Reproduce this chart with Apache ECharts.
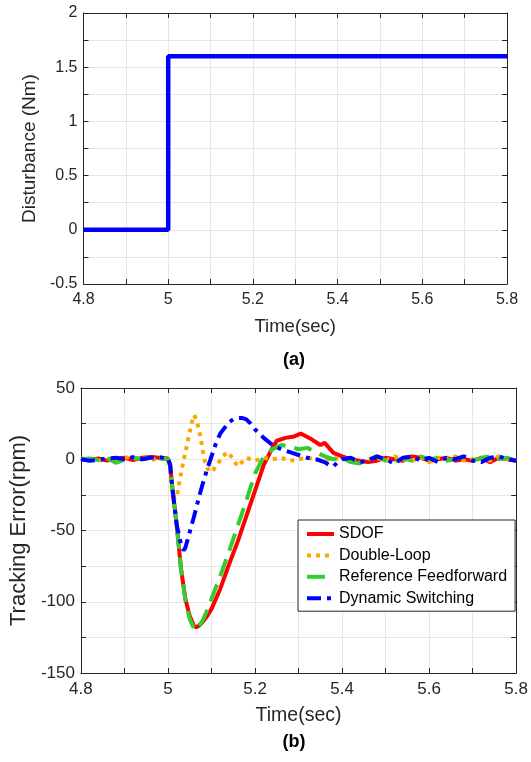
<!DOCTYPE html>
<html>
<head>
<meta charset="utf-8">
<script src="https://cdn.jsdelivr.net/npm/echarts@6/dist/echarts.min.js"></script>
<style>
html,body{margin:0;padding:0;background:#fff;}
#chart{width:531px;height:762px;}
</style>
</head>
<body>
<div id="chart"></div>
<script>
// ---------- (a) disturbance ----------
var distTime = [4.8, 5.0, 5.0, 5.8];
var distValue = [0, 0, 1.6, 1.6];

// ---------- (b) tracking error ----------
var sdofTime = [4.80,4.82,4.84,4.86,4.88,4.90,4.92,4.94,4.96,4.98,5.00,
  5.005,5.01,5.02,5.03,5.04,5.05,5.06,5.065,5.07,5.08,5.09,5.10,5.12,5.14,5.16,5.18,5.20,5.22,5.23,5.24,5.25,5.27,5.29,5.305,5.33,5.35,5.36,5.38,5.40,
  5.42,5.44,5.46,5.48,5.50,5.52,5.54,5.56,5.58,5.60,5.62,5.64,5.66,5.68,5.70,5.72,5.74,5.76,5.78,5.80];
var sdofValue = [0,-0.5,0.5,-1,0.5,1,-0.5,1,1.5,1,0.5,
  -4,-20,-46,-77,-98,-110,-117,-118,-117,-114,-110,-105,-91,-74,-58,-40,-22,-4,2,8,13,15,16,18,14,10,11.5,4.5,2,
  0,-1,-2,-1,1,0,-1,2,1,-1,0,1,-1,0,-1,1,-2,1,0,-1];

var dlTime = [4.80,4.82,4.84,4.86,4.88,4.90,4.92,4.94,4.96,4.98,5.00,
  5.005,5.01,5.015,5.02,5.025,5.03,5.035,5.04,5.05,5.055,5.06,5.065,5.07,5.075,5.08,5.085,5.095,5.105,5.113,5.125,5.138,5.15,5.16,5.17,5.18,5.20,5.22,5.24,5.26,5.28,5.30,5.32,5.34,5.36,5.38,5.40,
  5.42,5.44,5.46,5.48,5.50,5.52,5.54,5.56,5.58,5.60,5.62,5.64,5.66,5.68,5.70,5.72,5.74,5.76,5.78,5.80];
var dlValue = [0.5,0,-1,0,-0.5,1.5,0.5,1,-0.5,0.5,0,
  -8,-20,-28,-27,-18,-10,-2,5,19,26,31,28,22,15,6,-2,-9,-7,-4,2,5,0,-5,-2,1,-1,1,0,1,-1,0,1,0,-1,1,0,
  1,-2,0,1,-1,2,0,-1,1,-2,1,0,2,-1,0,1,-1,2,0,-1];

var rffTime = [4.80,4.82,4.84,4.86,4.88,4.90,4.92,4.94,4.96,4.98,5.00,
  5.005,5.01,5.02,5.03,5.04,5.05,5.06,5.065,5.07,5.08,5.09,5.10,5.12,5.14,5.16,5.18,5.20,5.22,5.24,5.26,5.28,5.30,5.32,5.34,5.36,5.38,5.40,
  5.42,5.44,5.46,5.48,5.50,5.52,5.54,5.56,5.58,5.60,5.62,5.64,5.66,5.68,5.70,5.72,5.74,5.76,5.78,5.80];
var rffValue = [0,0.5,-0.5,1,-2.5,-0.5,1,0,1,0.5,0,
  -4,-20,-46,-77,-99,-112,-119,-120,-118,-113,-106,-98,-82,-65,-47,-29,-10,2,7,10,9,7,8,5,2,0,1,
  -2,-3,0,2,-1,-2,1,-1,2,0,1,-1,0,2,-1,1,2,0,1,-1];

var dsTime = [4.80,4.82,4.84,4.86,4.88,4.90,4.92,4.94,4.96,4.98,5.00,
  5.005,5.01,5.02,5.03,5.036,5.04,5.05,5.06,5.07,5.08,5.09,5.10,5.11,5.12,5.13,5.14,5.15,5.16,5.17,5.18,5.19,5.20,5.22,5.24,5.26,5.28,5.30,5.32,5.34,5.36,5.37,5.38,5.39,5.40,
  5.42,5.44,5.46,5.48,5.50,5.52,5.54,5.56,5.58,5.60,5.62,5.64,5.66,5.68,5.70,5.72,5.74,5.76,5.78,5.80];
var dsValue = [0,-1,-0.5,0.5,1,0,1.5,0,1,1.5,0.5,
  -4,-20,-46,-60,-64,-62,-51,-40,-28,-17,-7,2,11,18,22,26,28,29,29,28,25,21,15,10,7,5,3,1,0,-2,-4,-5,-2,0,
  1,-2,-1,2,0,-3,1,2,-1,1,-2,1,0,2,-1,-2,1,2,0,-1];

var seriesNames = ['SDOF', 'Double-Loop', 'Reference Feedforward', 'Dynamic Switching'];

function pairs(t, v) { return t.map(function (x, i) { return [x, v[i]]; }); }

var FONT = 'Liberation Sans, Arial, Helvetica, sans-serif';
var AX = '#262626';
var GRIDC = '#e6e6e6';

function xMain(gi, fs, name, nfs) {
  return {
    type: 'value', gridIndex: gi, min: 4.8, max: 5.8, interval: 0.2,
    axisLine: { show: true, onZero: false, lineStyle: { color: AX, width: 1 } },
    axisTick: { show: true, inside: true, length: 5, lineStyle: { color: AX } },
    minorTick: { show: true, splitNumber: 2, length: 5, lineStyle: { color: AX } },
    splitLine: { show: true, lineStyle: { color: GRIDC, width: 1 } },
    minorSplitLine: { show: true, lineStyle: { color: GRIDC, width: 1 } },
    axisLabel: { show: true, fontSize: fs, color: AX, fontFamily: FONT, margin: 8, showMinLabel: true, showMaxLabel: true },
    name: name, nameLocation: 'middle', nameGap: 33,
    nameTextStyle: { fontSize: nfs, color: AX, fontFamily: FONT }
  };
}
function xTop(gi) {
  return {
    type: 'value', gridIndex: gi, position: 'top', min: 4.8, max: 5.8, interval: 0.2,
    axisLine: { show: true, onZero: false, lineStyle: { color: AX, width: 1 } },
    axisTick: { show: true, inside: true, length: 5, lineStyle: { color: AX } },
    minorTick: { show: true, splitNumber: 2, length: 5, lineStyle: { color: AX } },
    splitLine: { show: false }, axisLabel: { show: false }
  };
}
function yMain(gi, min, max, iv, fs, name, nfs, gap) {
  return {
    type: 'value', gridIndex: gi, min: min, max: max, interval: iv,
    axisLine: { show: true, onZero: false, lineStyle: { color: AX, width: 1 } },
    axisTick: { show: true, inside: true, length: 5, lineStyle: { color: AX } },
    minorTick: { show: true, splitNumber: 2, length: 5, lineStyle: { color: AX } },
    splitLine: { show: true, lineStyle: { color: GRIDC, width: 1 } },
    minorSplitLine: { show: true, lineStyle: { color: GRIDC, width: 1 } },
    axisLabel: { show: true, fontSize: fs, color: AX, fontFamily: FONT, margin: 6, showMinLabel: true, showMaxLabel: true },
    name: name, nameLocation: 'middle', nameGap: gap, nameRotate: 90,
    nameTextStyle: { fontSize: nfs, color: AX, fontFamily: FONT }
  };
}
function yRight(gi, min, max, iv) {
  return {
    type: 'value', gridIndex: gi, position: 'right', min: min, max: max, interval: iv,
    axisLine: { show: true, onZero: false, lineStyle: { color: AX, width: 1 } },
    axisTick: { show: true, inside: true, length: 5, lineStyle: { color: AX } },
    minorTick: { show: true, splitNumber: 2, length: 5, lineStyle: { color: AX } },
    splitLine: { show: false }, axisLabel: { show: false }
  };
}

var chart = echarts.init(document.getElementById('chart'), null, { renderer: 'canvas' });
chart.setOption({
  animation: false,
  backgroundColor: '#ffffff',
  textStyle: { fontFamily: FONT },
  title: [
    { text: '(a)', left: 294, top: 351, textAlign: 'center', padding: 0,
      textStyle: { fontSize: 18, fontWeight: 'bold', color: '#000', fontFamily: FONT } },
    { text: '(b)', left: 294, top: 733, textAlign: 'center', padding: 0,
      textStyle: { fontSize: 18, fontWeight: 'bold', color: '#000', fontFamily: FONT } }
  ],
  grid: [
    { left: 83.5, right: 24, top: 13, bottom: 478, containLabel: false },
    { left: 73, right: 14, top: 388, bottom: 89, containLabel: false }
  ],
  xAxis: [
    xMain(0, 16, 'Time(sec)', 18.5), xTop(0),
    xMain(1, 17, 'Time(sec)', 19.5), xTop(1)
  ],
  yAxis: [
    yMain(0, -0.5, 2, 0.5, 16, 'Disturbance (Nm)', 19, 37), yRight(0, -0.5, 2, 0.5),
    yMain(1, -150, 50, 50, 17, 'Tracking Error(rpm)', 22, 42), yRight(1, -150, 50, 50)
  ],
  legend: {
    data: seriesNames,
    orient: 'vertical',
    left: 298, top: 520,
    padding: [6, 8, 5, 7],
    itemGap: 5.4,
    itemWidth: 27, itemHeight: 14,
    itemTextGap: 4,
    backgroundColor: '#ffffff',
    borderColor: AX, borderWidth: 1,
    itemStyle: { opacity: 0 },
    lineStyle: { width: 4 },
    textStyle: { fontSize: 16, color: '#000', fontFamily: FONT }
  },
  series: [
    { name: 'Disturbance', type: 'line', xAxisIndex: 0, yAxisIndex: 0,
      data: pairs(distTime, distValue), symbol: 'none',
      lineStyle: { color: '#0000ff', width: 4.5 }, itemStyle: { color: '#0000ff' } },
    { name: seriesNames[0], type: 'line', xAxisIndex: 2, yAxisIndex: 2,
      data: pairs(sdofTime, sdofValue), symbol: 'none', z: 2,
      lineStyle: { color: '#ff0000', width: 4 }, itemStyle: { color: '#ff0000' } },
    { name: seriesNames[1], type: 'line', xAxisIndex: 2, yAxisIndex: 2,
      data: pairs(dlTime, dlValue), symbol: 'none', z: 3,
      lineStyle: { color: '#ffa500', width: 4, type: [4, 5] }, itemStyle: { color: '#ffa500' } },
    { name: seriesNames[2], type: 'line', xAxisIndex: 2, yAxisIndex: 2,
      data: pairs(rffTime, rffValue), symbol: 'none', z: 4,
      lineStyle: { color: '#33cc33', width: 4, type: [18, 9] }, itemStyle: { color: '#33cc33' } },
    { name: seriesNames[3], type: 'line', xAxisIndex: 2, yAxisIndex: 2,
      data: pairs(dsTime, dsValue), symbol: 'none', z: 5,
      lineStyle: { color: '#0000ff', width: 4, type: [14, 6, 4, 6] }, itemStyle: { color: '#0000ff' } }
  ]
});
</script>
</body>
</html>
